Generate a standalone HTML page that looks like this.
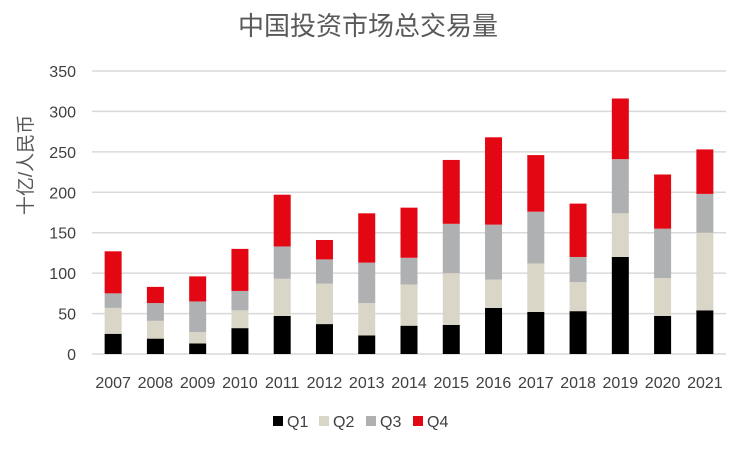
<!DOCTYPE html>
<html><head><meta charset="utf-8">
<style>
html,body{margin:0;padding:0;background:#fff;}
svg text{font-family:"Liberation Sans","Noto Sans CJK SC",sans-serif;}
</style></head>
<body>
<svg id="chart" width="744" height="445" viewBox="0 0 744 445" xmlns="http://www.w3.org/2000/svg">
<text x="368" y="35" text-anchor="middle" font-size="26" fill="#595959">中国投资市场总交易量</text>
<text transform="translate(32,165) rotate(-90)" text-anchor="middle" font-size="19" fill="#595959">十亿/人民币</text>
<g id="grid"></g><g id="bars"></g><g id="xl"></g><g id="legend"></g>
</svg>
<script>
const years=["2007","2008","2009","2010","2011","2012","2013","2014","2015","2016","2017","2018","2019","2020","2021"];
const q1=[25,19,13,32,47,37,23,35,36,57,52,53,120,47,54];
const q2=[32,22,14,22,46,50,40,51,64,35,60,36,54,47,96];
const q3=[18,22,38,24,40,30,50,33,61,68,64,31,67,61,48];
const q4=[52,20,31,52,64,24,61,62,79,108,70,66,75,67,55];
const yTicks=[0,50,100,150,200,250,300,350];
const seriesNames=["Q1","Q2","Q3","Q4"];
const colors=["#000000","#d9d6c8","#afb0b2","#e30613"];
const NS="http://www.w3.org/2000/svg";
const L=92,R=726,Y0=354,Y350=71;
const y=v=>Y0-(v/350)*(Y0-Y350);
const band=(R-L)/years.length;
const xc=i=>L+band*(i+0.5);
function mk(t,a,p){const e=document.createElementNS(NS,t);for(const k in a)e.setAttribute(k,a[k]);p.appendChild(e);return e;}
const grid=document.getElementById('grid');
yTicks.forEach(v=>{
 const l=mk('line',{x1:L,x2:R,y1:y(v),y2:y(v),stroke:'#d9d9d9','stroke-width':1.5},grid);
 
 
 const t=mk('text',{x:76,y:y(v)+6,'text-anchor':'end','font-size':16,fill:'#404040'},grid);
 t.textContent=v;
 
 
});
const series=[q1,q2,q3,q4];
const bars=document.getElementById('bars');
const xl=document.getElementById('xl');
const bw=17;
years.forEach((yr,i)=>{
 let cum=0;
 series.forEach((s,k)=>{
  const v=s[i];
  const r=mk('rect',{x:xc(i)-bw/2,y:y(cum+v),width:bw,height:y(cum)-y(cum+v),fill:colors[k]},bars);
  
  
  cum+=v;
 });
 const t=mk('text',{x:xc(i),y:388,'text-anchor':'middle','font-size':16,fill:'#404040'},xl);
 t.textContent=yr;
 
 
});
const lg=document.getElementById('legend');
const lx=[273,319,366,413];
seriesNames.forEach((n,k)=>{
 const g=mk('g',{},lg);
 
 
 mk('rect',{x:lx[k],y:416,width:10,height:10,fill:colors[k]},g);
 const t=mk('text',{x:lx[k]+14,y:427,'font-size':16,fill:'#404040'},g);
 t.textContent=n;
});
</script>
</body></html>
